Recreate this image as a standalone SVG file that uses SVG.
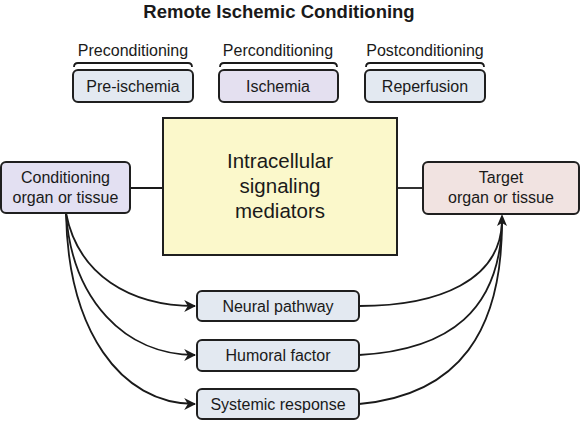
<svg xmlns="http://www.w3.org/2000/svg" width="581" height="421" viewBox="0 0 581 421">
<defs>
<style>
text{font-family:"Liberation Sans",Arial,sans-serif;fill:#1a1a1a;text-anchor:middle}
.t{font-size:18.5px;font-weight:bold}
.l{font-size:16px}
.m{font-size:20.5px}
.b{stroke:#1f1f1f;stroke-width:2}
.c{fill:none;stroke:#1a1a1a;stroke-width:1.8}
.br{fill:none;stroke:#1a1a1a;stroke-width:1.8}
</style>
<marker id="ah2" viewBox="0 0 10 10" refX="9" refY="5" markerWidth="12" markerHeight="12" markerUnits="userSpaceOnUse" orient="auto">
<path d="M0,0 L10,5 L0,10 L3,5 Z" fill="#1a1a1a"/>
</marker>
</defs>
<rect width="581" height="421" fill="#fff"/>
<text class="t" x="279" y="18">Remote Ischemic Conditioning</text>

<g id="connectors">
<line class="c" x1="130" y1="188" x2="163" y2="188"/>
<line class="c" x1="397" y1="188" x2="423" y2="188"/>
<path class="c" d="M66,213 C78,275 130,306 195,306" marker-end="url(#ah2)"/>
<path class="c" d="M66,213 C72,300 125,355 195,355" marker-end="url(#ah2)"/>
<path class="c" d="M66,213 C68,330 120,404 195,404" marker-end="url(#ah2)"/>
<path class="c" d="M359,306 C440,306 500,280 502,222"/>
<path class="c" d="M359,355 C450,350 500,310 502,222"/>
<path class="c" d="M359,404 C460,395 502,330 502,222"/>
<path d="M502,214 L507,226 L502,223 L497,226 Z" fill="#1a1a1a"/>
</g>

<g id="preconditioning">
<text class="l" x="133" y="56">Preconditioning</text>
<path class="br" d="M74,67 Q74,63 78,63 L188,63 Q192,63 192,67"/>
<rect class="b" x="73" y="70" width="120" height="32" rx="5" fill="#e3e9f1"/>
<text class="l" x="133" y="92">Pre-ischemia</text>
</g>
<g id="perconditioning">
<text class="l" x="278" y="56">Perconditioning</text>
<path class="br" d="M220,67 Q220,63 224,63 L333,63 Q337,63 337,67"/>
<rect class="b" x="219" y="70" width="119" height="32" rx="5" fill="#e4e0f0"/>
<text class="l" x="278" y="92">Ischemia</text>
</g>
<g id="postconditioning">
<text class="l" x="425" y="56">Postconditioning</text>
<path class="br" d="M366,67 Q366,63 370,63 L480,63 Q484,63 484,67"/>
<rect class="b" x="365" y="70" width="120" height="32" rx="5" fill="#e3e9f1"/>
<text class="l" x="425" y="92">Reperfusion</text>
</g>

<g id="conditioning">
<rect class="b" x="1" y="162" width="129" height="51" rx="5" fill="#e3e0f2"/>
<text class="l" x="65.5" y="183">Conditioning</text>
<text class="l" x="65.5" y="203">organ or tissue</text>
</g>
<g id="mediators">
<rect class="b" x="163" y="118" width="234" height="137" fill="#fbf8cb"/>
<text class="m" x="280" y="168">Intracellular</text>
<text class="m" x="280" y="193">signaling</text>
<text class="m" x="280" y="218">mediators</text>
</g>
<g id="target">
<rect class="b" x="423" y="162" width="156" height="52" rx="5" fill="#f1e3e1"/>
<text class="l" x="501" y="183">Target</text>
<text class="l" x="501" y="203">organ or tissue</text>
</g>
<g id="neural">
<rect class="b" x="197" y="291" width="162" height="30" rx="5" fill="#e3e9f1"/>
<text class="l" x="278" y="312">Neural pathway</text>
</g>
<g id="humoral">
<rect class="b" x="197" y="340" width="162" height="31" rx="5" fill="#e3e9f1"/>
<text class="l" x="278" y="361">Humoral factor</text>
</g>
<g id="systemic">
<rect class="b" x="197" y="389" width="162" height="30" rx="5" fill="#e3e9f1"/>
<text class="l" x="278" y="410">Systemic response</text>
</g>
</svg>
